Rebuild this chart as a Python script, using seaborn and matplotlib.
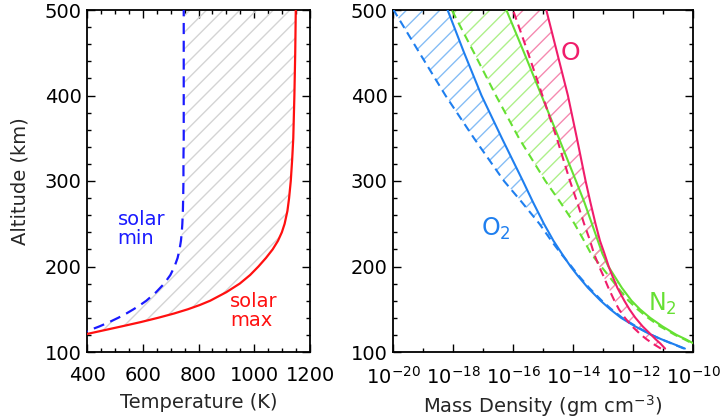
import seaborn as sns
import matplotlib.pyplot as plt
import matplotlib.ticker as mticker
import pandas as pd
import numpy as np

sns.set_style("ticks")
plt.rcParams["font.family"] = ["DejaVu Sans"]
plt.rcParams["hatch.linewidth"] = 1.0

# --- left panel: temperature profiles (K) vs altitude (km) ---
alt_T = [120, 125, 130, 135, 140, 145, 150, 155, 160, 170, 180, 190, 200, 210,
         220, 230, 240, 250, 265, 280, 300, 325, 350, 400, 450, 500]
temp_max = [385, 455, 525, 593, 655, 712, 762, 805, 842, 900, 948, 985, 1015,
            1042, 1066, 1085, 1099, 1109, 1119, 1125, 1131, 1136, 1140, 1144,
            1147, 1149]
temp_min = [365, 405, 445, 480, 512, 541, 567, 591, 613, 648, 677, 699, 714,
            725, 732, 737, 740, 742, 744, 745, 746, 746, 747, 747, 747, 747]

# --- right panel: log10 mass density (gm cm^-3) vs altitude (km) ---
alt_rho = [104, 110, 115, 120, 130, 140, 150, 160, 175, 190, 200, 215, 230,
           250, 275, 300, 350, 400, 450, 500]
o2_max = [-10.27, -10.70, -11.06, -11.39, -11.93, -12.40, -12.76, -13.08,
          -13.50, -13.86, -14.08, -14.37, -14.65, -14.97, -15.33, -15.67,
          -16.37, -17.05, -17.63, -18.18]
o2_min = [-10.30, -10.72, -11.07, -11.38, -11.90, -12.36, -12.72, -13.04,
          -13.46, -13.83, -14.05, -14.40, -14.72, -15.12, -15.70, -16.30,
          -17.30, -18.25, -19.12, -19.98]
n2_max = [-9.70, -9.98, -10.25, -10.55, -11.02, -11.43, -11.77, -12.05,
          -12.37, -12.64, -12.82, -13.02, -13.17, -13.37, -13.62, -13.90,
          -14.47, -15.05, -15.63, -16.22]
n2_min = [-9.72, -10.02, -10.30, -10.60, -11.10, -11.50, -11.85, -12.15,
          -12.50, -12.83, -13.06, -13.40, -13.63, -13.95, -14.42, -14.92,
          -15.80, -16.57, -17.30, -18.04]
o_max = [-10.93, -11.09, -11.25, -11.39, -11.68, -11.92, -12.12, -12.29,
         -12.52, -12.70, -12.81, -12.95, -13.10, -13.25, -13.42, -13.58,
         -13.87, -14.17, -14.53, -14.89]
o_min = [-11.07, -11.35, -11.55, -11.73, -12.03, -12.27, -12.47, -12.62,
         -12.82, -13.00, -13.13, -13.30, -13.43, -13.63, -13.86, -14.10,
         -14.54, -15.02, -15.50, -16.00]

x_exp = [-20, -18, -16, -14, -12, -10]

species = {
    "O2": (o2_max, o2_min, "#1f7fef", "#85bdf5"),
    "N2": (n2_max, n2_min, "#66e033", "#aef08a"),
    "O": (o_max, o_min, "#f01d6b", "#f58ab0"),
}

fig = plt.figure(figsize=(7.2, 4.18), dpi=100)
ax1 = fig.add_axes([87 / 720, 66 / 418, 223 / 720, 342 / 418])
ax2 = fig.add_axes([393 / 720, 66 / 418, 300 / 720, 342 / 418])

# left panel
ax1.fill_betweenx(alt_T, temp_min, temp_max, facecolor="none",
                  edgecolor="#d4d4d4", hatch="//", linewidth=0, zorder=1)
df_T = pd.DataFrame({
    "alt": alt_T * 2,
    "T": temp_max + temp_min,
    "case": ["max"] * len(alt_T) + ["min"] * len(alt_T),
})
sns.lineplot(data=df_T, x="T", y="alt", hue="case", style="case",
             palette={"max": "#ff1010", "min": "#1a1aff"},
             dashes={"max": "", "min": (5, 3)}, sort=False, estimator=None,
             linewidth=1.6, legend=False, ax=ax1, zorder=3)

ax1.text(510, 244, "solar\nmin", color="#1a1aff", fontsize=14, ha="left",
         va="center", linespacing=1.0)
ax1.text(914, 148, "solar\nmax", color="#ff1010", fontsize=14, ha="left",
         va="center", linespacing=1.0)

ax1.set_xlim(400, 1200)
ax1.set_ylim(100, 500)
ax1.set_xticks(range(400, 1201, 200))
ax1.xaxis.set_minor_locator(mticker.MultipleLocator(50))
ax1.set_yticks(range(100, 501, 100))
ax1.yaxis.set_minor_locator(mticker.MultipleLocator(20))
ax1.set_xlabel("Temperature (K)", fontsize=14)
ax1.set_ylabel("Altitude (km)", fontsize=14)
ax1.xaxis.set_label_coords(0.5, -0.12)
ax1.yaxis.set_label_coords(-0.26, 0.5)

# right panel
rows = []
for name, (vmax, vmin, line_c, hatch_c) in species.items():
    ax2.fill_betweenx(alt_rho, 10.0 ** np.array(vmin), 10.0 ** np.array(vmax),
                      facecolor="none", edgecolor=hatch_c, hatch="//",
                      linewidth=0, zorder=1)
    for a, v in zip(alt_rho, vmax):
        rows.append([a, 10.0 ** v, name, "max"])
    for a, v in zip(alt_rho, vmin):
        rows.append([a, 10.0 ** v, name, "min"])
df_rho = pd.DataFrame(rows, columns=["alt", "rho", "species", "case"])
sns.lineplot(data=df_rho, x="rho", y="alt", hue="species", style="case",
             units="species", palette={k: v[2] for k, v in species.items()},
             dashes={"max": "", "min": (4, 2.5)}, sort=False, estimator=None,
             linewidth=1.5, legend=False, ax=ax2, zorder=3)

ax2.text(10 ** -14.07, 450, "O", color=species["O"][2], fontsize=18,
         ha="center", va="center")
ax2.text(10 ** -17.05, 244, "O$_2$", color=species["O2"][2], fontsize=17,
         ha="left", va="center")
ax2.text(10 ** -11.5, 156, "N$_2$", color=species["N2"][2], fontsize=17,
         ha="left", va="center")

ax2.set_xscale("log")
ax2.set_xlim(1e-20, 1e-10)
ax2.set_ylim(100, 500)
ax2.set_xticks([10.0 ** e for e in x_exp],
               labels=[f"$10^{{{e}}}$" for e in x_exp])
ax2.set_xticks([10.0 ** e for e in range(-19, -10, 2)], minor=True)
ax2.xaxis.set_minor_formatter(mticker.NullFormatter())
ax2.set_yticks(range(100, 501, 100))
ax2.yaxis.set_minor_locator(mticker.MultipleLocator(20))
ax2.set_xlabel("Mass Density (gm cm$^{-3}$)", fontsize=14)
ax2.set_ylabel("")
ax2.xaxis.set_label_coords(0.5, -0.12)

for ax in (ax1, ax2):
    ax.tick_params(which="both", direction="in", top=True, right=True,
                   width=1.0, colors="black")
    ax.tick_params(which="major", length=6, labelsize=14)
    ax.tick_params(which="minor", length=3)
    ax.tick_params(axis="x", which="major", pad=10)
    ax.tick_params(axis="y", which="major", pad=4)
    for s in ax.spines.values():
        s.set_linewidth(1.3)
        s.set_color("black")

fig.savefig("out.png", dpi=100)
